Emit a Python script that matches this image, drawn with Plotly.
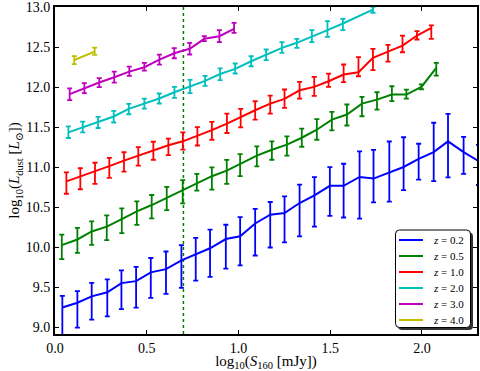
import plotly.graph_objects as go

# ---------------- data ----------------
x_z02 = [0.040, 0.122, 0.200, 0.285, 0.362, 0.442, 0.522, 0.605, 0.689, 0.767,
         0.845, 0.931, 1.009, 1.091, 1.173, 1.251, 1.333, 1.414, 1.498, 1.573,
         1.660, 1.736, 1.822, 1.900, 1.982, 2.064, 2.142, 2.227, 2.308]
y_z02 = [9.25, 9.31, 9.39, 9.44, 9.555, 9.58, 9.69, 9.73, 9.84, 9.92,
         9.99, 10.105, 10.14, 10.30, 10.41, 10.43, 10.555, 10.65, 10.77, 10.77,
         10.88, 10.86, 10.94, 11.005, 11.105, 11.19, 11.325, 11.19, 11.08]
up_z02 = [0.145, 0.146, 0.167, 0.163, 0.158, 0.179, 0.179, 0.22, 0.19, 0.20,
          0.233, 0.179, 0.24, 0.183, 0.158, 0.208, 0.229, 0.229, 0.233, 0.275,
          0.32, 0.358, 0.383, 0.371, 0.19, 0.367, 0.342, 0.19, 0.2]
dn_z02 = [0.34, 0.31, 0.29, 0.30, 0.325, 0.33, 0.32, 0.31, 0.345, 0.333,
          0.358, 0.37, 0.3625, 0.40, 0.41, 0.367, 0.417, 0.39, 0.375, 0.396,
          0.52, 0.296, 0.367, 0.29, 0.258, 0.3625, 0.45, 0.27, 0.3]

x_z05 = [0.037, 0.122, 0.200, 0.282, 0.364, 0.446, 0.527, 0.609, 0.696, 0.773,
         0.855, 0.936, 1.009, 1.100, 1.182, 1.264, 1.345, 1.427, 1.509, 1.591,
         1.673, 1.755, 1.836, 1.915, 1.997, 2.078]
y_z05 = [10.03, 10.10, 10.20, 10.26, 10.355, 10.45, 10.53, 10.62, 10.72, 10.80,
         10.89, 10.96, 11.04, 11.146, 11.22, 11.284, 11.37, 11.47, 11.596, 11.66,
         11.796, 11.846, 11.909, 11.909, 12.005, 12.2425]
up_z05 = [0.13, 0.146, 0.125, 0.142, 0.133, 0.125, 0.125, 0.1375, 0.12, 0.12,
          0.11, 0.133, 0.125, 0.117, 0.104, 0.104, 0.1125, 0.133, 0.096, 0.125,
          0.083, 0.092, 0.104, 0.0625, 0.03, 0.0625]
dn_z05 = [0.175, 0.167, 0.167, 0.167, 0.175, 0.167, 0.167, 0.154, 0.17, 0.09,
          0.167, 0.167, 0.15, 0.133, 0.125, 0.1375, 0.1125, 0.125, 0.133, 0.1375,
          0.158, 0.125, 0.083, 0.05, 0.03, 0.096]

x_z10 = [0.062, 0.138, 0.218, 0.296, 0.376, 0.454, 0.536, 0.618, 0.697, 0.776,
         0.855, 0.937, 1.012, 1.091, 1.173, 1.251, 1.333, 1.413, 1.491, 1.573,
         1.654, 1.733, 1.815, 1.894, 1.973, 2.051]
y_z10 = [10.825, 10.885, 10.945, 11.015, 11.085, 11.148, 11.22, 11.277, 11.325, 11.39,
         11.465, 11.546, 11.63, 11.713, 11.796, 11.855, 11.9625, 12.005, 12.075, 12.159,
         12.1875, 12.3675, 12.445, 12.52, 12.646, 12.7425]
up_z10 = [0.1125, 0.104, 0.1125, 0.104, 0.104, 0.104, 0.1, 0.083, 0.1125, 0.1125,
          0.104, 0.125, 0.1, 0.1125, 0.1, 0.117, 0.104, 0.125, 0.096, 0.125,
          0.19, 0.1125, 0.083, 0.125, 0.054, 0.03]
dn_z10 = [0.154, 0.158, 0.15, 0.146, 0.1375, 0.125, 0.125, 0.125, 0.104, 0.117,
          0.12, 0.117, 0.13, 0.117, 0.125, 0.1125, 0.104, 0.1125, 0.071, 0.096,
          0.05, 0.154, 0.125, 0.083, 0.05, 0.1375]

x_z20 = [0.073, 0.151, 0.235, 0.320, 0.402, 0.487, 0.568, 0.651, 0.736, 0.818,
         0.900, 0.982, 1.069, 1.151, 1.237, 1.318, 1.400, 1.485, 1.569, 1.733]
y_z20 = [11.4375, 11.5, 11.5625, 11.635, 11.73, 11.795, 11.86, 11.9375, 12.01, 12.08,
         12.165, 12.23, 12.325, 12.409, 12.4925, 12.555, 12.63, 12.7125, 12.796, 12.97]
up_z20 = [0.075, 0.071, 0.067, 0.071, 0.0625, 0.0625, 0.0625, 0.067, 0.083, 0.0625,
          0.071, 0.067, 0.0625, 0.0625, 0.071, 0.05, 0.083, 0.1125, 0.058, 0.034]
dn_z20 = [0.071, 0.0625, 0.071, 0.075, 0.067, 0.0625, 0.0625, 0.071, 0.083, 0.0625,
          0.075, 0.058, 0.0625, 0.071, 0.0625, 0.0625, 0.067, 0.083, 0.083, 0.04]

x_z30 = [0.080, 0.160, 0.241, 0.323, 0.405, 0.487, 0.569, 0.650, 0.734, 0.814,
         0.896, 0.976]
y_z30 = [11.915, 11.99, 12.06, 12.125, 12.195, 12.25, 12.346, 12.425, 12.48, 12.605,
         12.6375, 12.73]
up_z30 = [0.071, 0.0625, 0.054, 0.071, 0.0625, 0.054, 0.0625, 0.0625, 0.075, 0.034,
          0.075, 0.075]
dn_z30 = [0.075, 0.0625, 0.058, 0.067, 0.054, 0.041, 0.0625, 0.0625, 0.071, 0.029,
          0.075, 0.05]

x_z40 = [0.105, 0.216]
y_z40 = [12.34, 12.445]
up_z40 = [0.05, 0.05]
dn_z40 = [0.05, 0.041]

labels = ["0.2", "0.5", "1.0", "2.0", "3.0", "4.0"]
colors = ["#0000ff", "#008000", "#ff0000", "#00bfbf", "#bf00bf", "#bfbf00"]

flux_cut = 0.7

x_ticks = [0.0, 0.5, 1.0, 1.5, 2.0]
y_ticks = [9.0, 9.5, 10.0, 10.5, 11.0, 11.5, 12.0, 12.5, 13.0]

# ---------------- figure ----------------
series = [
    (x_z02, y_z02, up_z02, dn_z02),
    (x_z05, y_z05, up_z05, dn_z05),
    (x_z10, y_z10, up_z10, dn_z10),
    (x_z20, y_z20, up_z20, dn_z20),
    (x_z30, y_z30, up_z30, dn_z30),
    (x_z40, y_z40, up_z40, dn_z40),
]

FONT = "Liberation Serif, DejaVu Serif, serif"

fig = go.Figure()
for (xs, ys, up, dn), lab, col in zip(series, labels, colors):
    fig.add_trace(go.Scatter(
        x=xs, y=ys, mode="lines", name="z = " + lab,
        line=dict(color=col, width=2),
        error_y=dict(type="data", symmetric=False, array=up, arrayminus=dn,
                     color=col, thickness=1.8, width=2.5),
        showlegend=False,
    ))

shapes = [dict(type="line", xref="x", yref="paper", x0=flux_cut, x1=flux_cut,
               y0=0, y1=1, line=dict(color="#008000", width=1.5, dash="dot"),
               layer="below")]

# legend box (rounded, with shadow), drawn in paper coordinates
def rounded(x0, y0, x1, y1, rx, ry):
    return (f"M {x0+rx},{y0} L {x1-rx},{y0} Q {x1},{y0} {x1},{y0+ry} "
            f"L {x1},{y1-ry} Q {x1},{y1} {x1-rx},{y1} L {x0+rx},{y1} "
            f"Q {x0},{y1} {x0},{y1-ry} L {x0},{y0+ry} Q {x0},{y0} {x0+rx},{y0} Z")

L, R, T, B = 55, 3, 7, 37
W, H = 480.0 - L - R, 371.0 - T - B
YB = 371.0 - B
bx0, bx1 = (395.5 - L) / W, (470.5 - L) / W
by0, by1 = (YB - 327.5) / H, (YB - 230) / H
rx, ry = 4 / W, 4 / H
sx, sy = 2.5 / W, 2.5 / H
shapes.append(dict(type="path", xref="paper", yref="paper",
                   path=rounded(bx0 + sx, by0 - sy, bx1 + sx, by1 - sy, rx, ry),
                   fillcolor="#303030", line=dict(width=0), layer="above"))
shapes.append(dict(type="path", xref="paper", yref="paper",
                   path=rounded(bx0, by0, bx1, by1, rx, ry),
                   fillcolor="white", line=dict(color="black", width=1), layer="above"))

annotations = []
row0 = 240.0
dy = 16.0
for i, (lab, col) in enumerate(zip(labels, colors)):
    ypx = row0 + i * dy
    yp = (YB - ypx) / H
    shapes.append(dict(type="line", xref="paper", yref="paper",
                       x0=(399 - L) / W, x1=(423 - L) / W, y0=yp, y1=yp,
                       line=dict(color=col, width=2), layer="above"))
    annotations.append(dict(xref="paper", yref="paper", x=(431 - L) / W, y=yp,
                            xanchor="left", yanchor="middle", showarrow=False,
                            text="<i>z</i> = " + lab,
                            font=dict(family=FONT, size=11, color="black")))

fig.update_layout(
    width=480, height=371,
    margin=dict(l=L, r=R, t=T, b=B, autoexpand=False),
    paper_bgcolor="white", plot_bgcolor="white",
    font=dict(family=FONT, size=14, color="black"),
    shapes=shapes, annotations=annotations,
    showlegend=False,
)
axis_common = dict(showgrid=False, zeroline=False, showline=True, linecolor="black",
                   linewidth=2, mirror="allticks", ticks="inside", ticklen=4,
                   tickwidth=1, tickcolor="black", tickformat=".1f", automargin=False,
                   tickfont=dict(family=FONT, size=14, color="black"))
fig.update_xaxes(range=[0, 2.3], tickvals=x_ticks,
                 title=dict(text="log<sub>10</sub>(<i>S</i><sub>160</sub> [mJy])",
                            font=dict(family=FONT, size=15), standoff=0),
                 **axis_common)
fig.update_yaxes(range=[8.92, 13.002], tickvals=y_ticks,
                 title=dict(text="log<sub>10</sub>(<i>L</i><sub>dust</sub> [<i>L</i><sub>⊙</sub>])",
                            font=dict(family=FONT, size=15), standoff=2),
                 **axis_common)

fig.write_html("out.html", config={"displayModeBar": False},
               post_script="document.body.style.margin='0';document.body.style.overflow='hidden';")
